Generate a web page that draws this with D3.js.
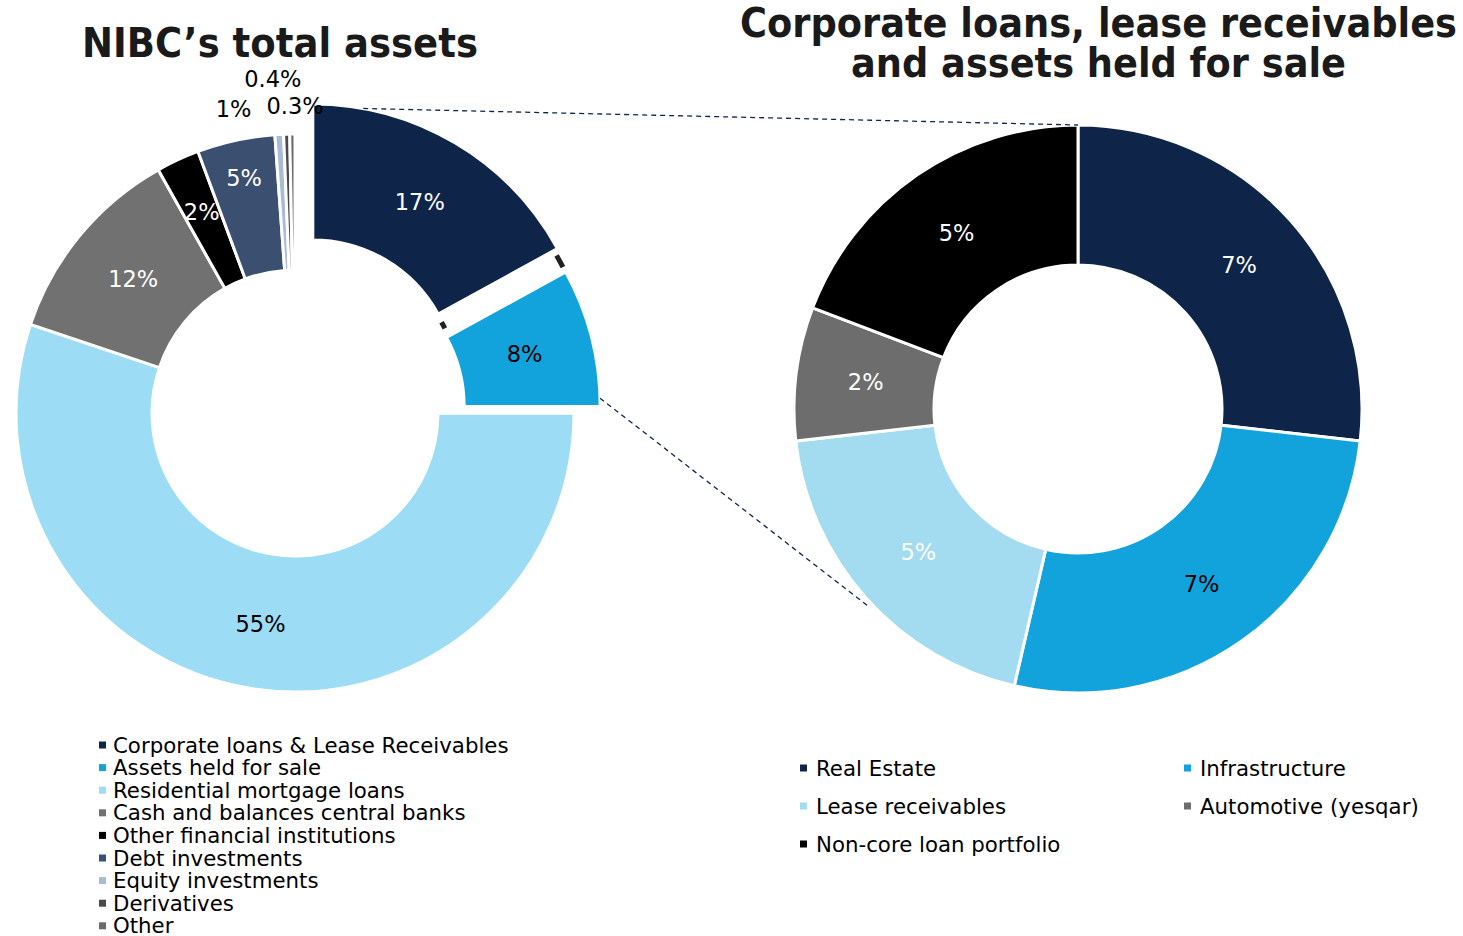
<!DOCTYPE html>
<html><head><meta charset="utf-8">
<script src="https://cdn.jsdelivr.net/npm/d3@7"></script>
<style>body{margin:0;background:#fff} text{font-family:"DejaVu Sans",Verdana,sans-serif}</style>
</head><body><svg id="c" width="1463" height="936"></svg>
<script>
// ---------- data ----------
const leftCategories = ["Corporate loans & Lease Receivables","Assets held for sale","Residential mortgage loans","Cash and balances central banks","Other financial institutions","Debt investments","Equity investments","Derivatives","Other"];
const leftValues = [17, 8, 55.1, 11.7, 2.5, 4.5, 0.5, 0.35, 0.3];
const leftLabels = ["17%","8%","55%","12%","2%","5%","1%","0.4%","0.3%"];
const leftColors = ["#0e2549","#12a3dc","#9cdcf5","#717171","#000000","#3b5070","#a9bcd4","#4a4a4a","#6b6b6b"];
const leftLabelColors = ["#fff","#000","#000","#fff","#fff","#fff","#000","#000","#000"];

const rightCategories = ["Real Estate","Infrastructure","Lease receivables","Automotive (yesqar)","Non-core loan portfolio"];
const rightValues = [6.7, 6.7, 4.9, 1.9, 4.8];
const rightLabels = ["7%","7%","5%","2%","5%"];
const rightColors = ["#0e2549","#12a3dc","#a3dbf0","#6d6d6d","#000000"];
const rightLabelColors = ["#fff","#000","#fff","#fff","#fff"];

const titles = {left:"NIBC\u2019s total assets", right:["Corporate loans, lease receivables","and assets held for sale"]};

// ---------- layout / style ----------
const svg = d3.select("#c");
const L = {cx:295, cy:413, r0:143, r1:279, explode:[35,27,0,0,0,0,0,0,0],
           labelR:[210,210,214,210,222,240,null,null,null],
           outside:{6:[-44,4],7:[-13,-25],8:[3,2]}};
const R = {cx:1078, cy:409, r0:144, r1:284, labelR:[216,214,214,214,214]};
const u = a => [Math.sin(a), -Math.cos(a)];
const LABEL_FS = 22.5, LEGEND_FS = 21.3;

function donut(cfg, values, colors, labels, labelColors){
  const pie = d3.pie().sort(null).value(d=>d)(values);
  const arc = d3.arc().innerRadius(cfg.r0).outerRadius(cfg.r1);
  const g = svg.append("g").attr("transform",`translate(${cfg.cx},${cfg.cy})`);
  pie.forEach((p,i)=>{
    const mid=(p.startAngle+p.endAngle)/2;
    const ex = cfg.explode ? cfg.explode[i] : 0;
    const [ux,uy]=u(mid);
    p.off=[ux*ex, uy*ex];
    g.append("path").attr("d",arc(p)).attr("fill",colors[i])
      .attr("stroke","#fff").attr("stroke-width",3)
      .attr("transform",`translate(${p.off[0]},${p.off[1]})`);
  });
  pie.forEach((p,i)=>{
    const mid=(p.startAngle+p.endAngle)/2;
    let x,y;
    const [ux,uy]=u(mid);
    if(cfg.outside && cfg.outside[i]){
      x=ux*(cfg.r1+30)+cfg.outside[i][0]; y=uy*(cfg.r1+30)+cfg.outside[i][1];
    } else {
      const lr = cfg.labelR ? cfg.labelR[i] : (cfg.r0+cfg.r1)/2;
      x=ux*lr+p.off[0]; y=uy*lr+p.off[1];
    }
    g.append("text").attr("x",x).attr("y",y).attr("text-anchor","middle")
      .attr("dominant-baseline","central").attr("font-size",LABEL_FS)
      .attr("fill",labelColors[i]).text(labels[i]);
  });
  return {pie,g};
}

const left = donut(L, leftValues, leftColors, leftLabels, leftLabelColors);
const right = donut(R, rightValues, rightColors, rightLabels, rightLabelColors);

// small dark marks of the gap between the first two slices
(function(){
  const p0=left.pie[0], p1=left.pie[1];
  const b=(p0.endAngle+p1.startAngle)/2, w=0.024;
  const off=[(p0.off[0]+p1.off[0])/2,(p0.off[1]+p1.off[1])/2];
  [L.r1-2, L.r0+1].forEach(rad=>{
    const a=d3.arc().innerRadius(rad-2.5).outerRadius(rad+2.5).startAngle(b-w).endAngle(b+w);
    left.g.append("path").attr("d",a()).attr("fill","#222")
      .attr("transform",`translate(${off[0]},${off[1]})`);
  });
})();

// connector lines
function ptL(i, ang, rad){ const p=left.pie[i]; const [ux,uy]=u(ang); return [L.cx+p.off[0]+ux*rad, L.cy+p.off[1]+uy*rad]; }
function ptR(ang, rad){ const [ux,uy]=u(ang); return [R.cx+ux*rad, R.cy+uy*rad]; }
const c0=left.pie[0], c1=left.pie[1], rl=right.pie[2];
const lines=[
  [ptL(0, c0.startAngle+(c0.endAngle-c0.startAngle)*0.17, L.r1), ptR(right.pie[0].startAngle, R.r1)],
  [ptL(1, c1.endAngle-0.03, L.r1), ptR(rl.startAngle+(rl.endAngle-rl.startAngle)*0.48, R.r1+4)]
];
lines.forEach(([a,b])=>svg.append("line").attr("x1",a[0]).attr("y1",a[1]).attr("x2",b[0]).attr("y2",b[1])
  .attr("stroke","#0e2549").attr("stroke-width",1.3).attr("stroke-dasharray","5,4"));

// titles
svg.append("text").attr("x",280).attr("y",57).attr("text-anchor","middle").attr("font-size",40)
  .attr("font-weight","bold").attr("fill","#1a1a1a").attr("textLength",396).attr("lengthAdjust","spacingAndGlyphs").text(titles.left);
svg.append("text").attr("x",1098.5).attr("y",37).attr("text-anchor","middle").attr("font-size",40)
  .attr("font-weight","bold").attr("fill","#1a1a1a").attr("textLength",717).attr("lengthAdjust","spacingAndGlyphs").text(titles.right[0]);
svg.append("text").attr("x",1098.5).attr("y",77).attr("text-anchor","middle").attr("font-size",40)
  .attr("font-weight","bold").attr("fill","#1a1a1a").attr("textLength",495).attr("lengthAdjust","spacingAndGlyphs").text(titles.right[1]);

// legends
const lg = svg.append("g");
leftCategories.forEach((c,i)=>{
  const y=745+i*22.6;
  lg.append("rect").attr("x",99).attr("y",y-3.5).attr("width",7).attr("height",7).attr("fill",leftColors[i]);
  lg.append("text").attr("x",113).attr("y",y).attr("dominant-baseline","central").attr("font-size",LEGEND_FS).attr("fill","#000").text(c);
});
rightCategories.forEach((c,i)=>{
  const col=i%2, row=Math.floor(i/2);
  const x=col?1184:800, y=768+row*38;
  lg.append("rect").attr("x",x).attr("y",y-3.5).attr("width",7).attr("height",7).attr("fill",rightColors[i]);
  lg.append("text").attr("x",x+16).attr("y",y).attr("dominant-baseline","central").attr("font-size",LEGEND_FS).attr("fill","#000").text(c);
});
</script></body></html>
